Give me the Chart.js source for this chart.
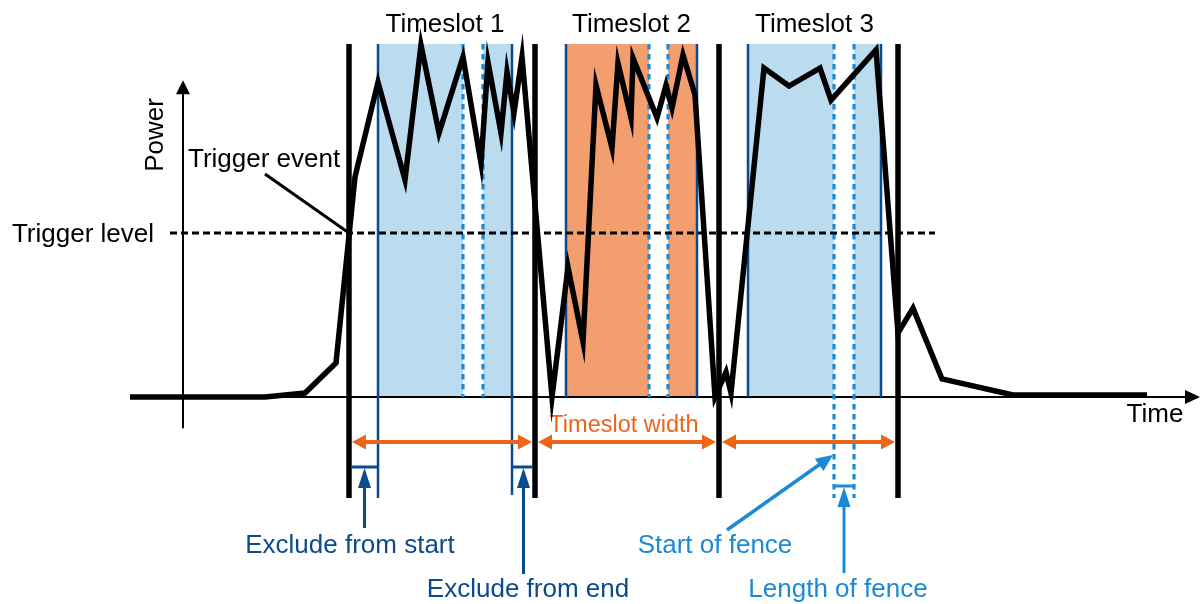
<!DOCTYPE html>
<html>
<head>
<meta charset="utf-8">
<script src="https://cdn.jsdelivr.net/npm/chart.js@4"></script>
<style>
  body { margin: 0; background: #fff; }
  #wrap { width: 1201px; height: 604px; position: relative; }
</style>
</head>
<body>
<div id="wrap"><canvas id="timeslot-chart"></canvas></div>
<script>
// power trace (time units, power in % where trigger level = 50)
const signalTime  = [-5.3, 8.2, 12.2, 15.3, 17.2, 19.5, 22.2, 23.8, 25.6, 28.0, 29.8, 30.5, 31.8, 32.4, 33.1, 33.9,
                     36.9, 38.5, 40.0, 41.3, 42.9, 43.5, 44.8, 45.0, 47.4, 48.3, 48.9, 50.0, 51.2,
                     53.2, 54.3, 54.8, 58.1, 60.6, 63.7, 64.8, 69.3, 71.5, 73.0, 75.9, 83.0, 96.4];
const signalPower = [0, 0, 1.2, 10.4, 67.1, 96.0, 66.2, 107.3, 80.5, 103.7, 71.3, 102.1, 80.5, 99.1, 86.6, 103.7,
                     0, 39.6, 16.8, 95.1, 75.9, 101.8, 85.1, 103.4, 85.1, 95.1, 88.1, 104.3, 92.1,
                     0, 7.6, 1.2, 100.3, 94.8, 100.3, 90.5, 105.8, 19.5, 27.1, 5.5, 0.6, 0.6];

const slotLabels  = ["Timeslot 1", "Timeslot 2", "Timeslot 3"];
const slotEdges   = [16.6, 35.2, 53.6, 71.5];
const windowStart = [19.5, 38.3, 56.5];
const windowEnd   = [32.9, 51.4, 69.8];
const fenceStart  = [28.0, 46.6, 65.1];
const fenceEnd    = [30.0, 48.5, 67.1];
const triggerLevel = 50;
const triggerSpan  = [-1.3, 75.2];

const FONT = "'Liberation Sans', Arial, sans-serif";
const DARK_BLUE = "#0b4a8c";
const LIGHT_BLUE = "#1a8ad4";
const ORANGE = "#ec6519";

const headAt = (ctx, x1, y1, x2, y2, len, half, color) => {
  const a = Math.atan2(y2 - y1, x2 - x1);
  ctx.save();
  ctx.fillStyle = color;
  ctx.translate(x2, y2);
  ctx.rotate(a);
  ctx.beginPath();
  ctx.moveTo(0, 0);
  ctx.lineTo(-len, -half);
  ctx.lineTo(-len, half);
  ctx.closePath();
  ctx.fill();
  ctx.restore();
}

const line = (ctx, x1, y1, x2, y2, w, color, dash) => {
  ctx.save();
  ctx.strokeStyle = color;
  ctx.lineWidth = w;
  ctx.setLineDash(dash || []);
  ctx.beginPath();
  ctx.moveTo(x1, y1);
  ctx.lineTo(x2, y2);
  ctx.stroke();
  ctx.restore();
}

// shaft stops at the base of the head so the tip stays sharp
const arrow = (ctx, x1, y1, x2, y2, w, len, half, color) => {
  const d = Math.hypot(x2 - x1, y2 - y1);
  const ex = x2 - (x2 - x1) / d * (len - 1), ey = y2 - (y2 - y1) / d * (len - 1);
  line(ctx, x1, y1, ex, ey, w, color);
  headAt(ctx, x1, y1, x2, y2, len, half, color);
}

const text = (ctx, str, x, y, size, color, align) => {
  ctx.save();
  ctx.font = size + "px " + FONT;
  ctx.fillStyle = color;
  ctx.textAlign = align || "center";
  ctx.textBaseline = "alphabetic";
  ctx.fillText(str, x, y);
  ctx.restore();
}

const diagramPlugin = {
  id: "diagram",
  beforeDatasetsDraw(chart) {
    const ctx = chart.ctx;
    const px = v => chart.scales.x.getPixelForValue(v);
    const py = v => chart.scales.y.getPixelForValue(v);
    const base = py(0);
    const top = py(107.6);
    const lower = base + 101;

    // measurement windows minus the fence gap
    const fills = ["#bbdcef", "#f29e6e", "#bbdcef"];
    for (let i = 0; i < 3; i++) {
      ctx.fillStyle = fills[i];
      ctx.fillRect(px(windowStart[i]), top, px(fenceStart[i]) - px(windowStart[i]), base - top);
      ctx.fillRect(px(fenceEnd[i]), top, px(windowEnd[i]) - px(fenceEnd[i]), base - top);
    }

    // axes
    line(ctx, px(-5.3), base, px(100.3), base, 2, "#000");
    headAt(ctx, 0, base, px(101.7), base, 15, 7, "#000");
    line(ctx, px(0), py(-9.5), px(0), py(93), 2, "#000");
    headAt(ctx, px(0), base, px(0), py(96.6), 14, 7, "#000");

    // window edges and fences
    for (let i = 0; i < 3; i++) {
      const bot = i === 0 ? lower : base;
      line(ctx, px(windowStart[i]), top, px(windowStart[i]), bot, 2.5, DARK_BLUE);
      line(ctx, px(windowEnd[i]), top, px(windowEnd[i]), i === 0 ? lower - 3 : base, 2.5, DARK_BLUE);
      const fb = i === 2 ? lower : base;
      line(ctx, px(fenceStart[i]), top, px(fenceStart[i]), fb, 3.2, LIGHT_BLUE, [5.5, 4.5]);
      line(ctx, px(fenceEnd[i]), top, px(fenceEnd[i]), fb, 3.2, LIGHT_BLUE, [5.5, 4.5]);
    }

    // timeslot boundaries
    slotEdges.forEach(t => line(ctx, px(t), top, px(t), lower, 5.5, "#000"));

    // labels on top
    for (let i = 0; i < 3; i++) {
      text(ctx, slotLabels[i], (px(windowStart[i]) + px(windowEnd[i])) / 2, 32, 26, "#000");
    }

    // power axis label
    ctx.save();
    ctx.translate(px(0) - 20, 135);
    ctx.rotate(-Math.PI / 2);
    text(ctx, "Power", 0, 0, 26, "#000");
    ctx.restore();
    text(ctx, "Time", 1155, base + 25, 26, "#000");

    // trigger annotations
    text(ctx, "Trigger level", px(0) - 29, py(triggerLevel) + 9, 26, "#000", "right");
    text(ctx, "Trigger event", px(0) + 5, 167, 26, "#000", "left");
    line(ctx, 265, 174, px(slotEdges[0]), py(triggerLevel), 3, "#000");

    // timeslot width arrows
    const ay = base + 45;
    for (let i = 0; i < 3; i++) {
      const a = px(slotEdges[i]) + 3, b = px(slotEdges[i + 1]) - 3;
      line(ctx, a + 10, ay, b - 10, ay, 4, ORANGE);
      headAt(ctx, b, ay, a, ay, 14, 7.5, ORANGE);
      headAt(ctx, a, ay, b, ay, 14, 7.5, ORANGE);
    }
    text(ctx, "Timeslot width", (px(slotEdges[1]) + px(slotEdges[2])) / 2 - 3, base + 35, 23.5, ORANGE);

    // exclude from start / end
    const by = base + 70;
    line(ctx, px(slotEdges[0]) + 3, by, px(windowStart[0]), by, 3, DARK_BLUE);
    const xs = (px(slotEdges[0]) + px(windowStart[0])) / 2 + 1;
    arrow(ctx, xs, base + 131, xs, by + 1, 3, 20, 6.5, DARK_BLUE);
    text(ctx, "Exclude from start", 350, 553, 26, DARK_BLUE);

    line(ctx, px(windowEnd[0]), by, px(slotEdges[1]) - 3, by, 3, DARK_BLUE);
    const xe = (px(windowEnd[0]) + px(slotEdges[1])) / 2;
    arrow(ctx, xe, base + 177, xe, by + 1, 3, 20, 6.5, DARK_BLUE);
    text(ctx, "Exclude from end", 528, 597, 26, DARK_BLUE);

    // fence annotations
    arrow(ctx, 727, 530, px(fenceStart[2]) - 1, base + 58, 3.5, 17, 7.5, LIGHT_BLUE);
    text(ctx, "Start of fence", 715, 553, 26, LIGHT_BLUE);
    const fy = base + 89;
    line(ctx, px(fenceStart[2]), fy, px(fenceEnd[2]), fy, 3, LIGHT_BLUE);
    const xf = (px(fenceStart[2]) + px(fenceEnd[2])) / 2;
    arrow(ctx, xf, base + 176, xf, fy + 1, 3, 20, 6.5, LIGHT_BLUE);
    text(ctx, "Length of fence", 838, 597, 26, LIGHT_BLUE);
  }
};

const generateDiagram = (canvasId) => {
  const config = {
    type: "line",
    data: {
      datasets: [{
        label: "Power",
        data: signalTime.map((t, i) => ({ x: t, y: signalPower[i] })),
        borderColor: "#000",
        borderWidth: 5.5,
        borderJoinStyle: "miter",
        pointRadius: 0,
        tension: 0,
        order: 0
      }, {
        label: "Trigger level",
        data: triggerSpan.map(t => ({ x: t, y: triggerLevel })),
        borderColor: "#000",
        borderWidth: 3,
        borderDash: [7, 4],
        pointRadius: 0,
        order: 1
      }]
    },
    options: {
      responsive: true,
      maintainAspectRatio: false,
      animation: false,
      events: [],
      layout: { padding: 0 },
      scales: {
        x: { type: "linear", min: -18.3, max: 101.8, display: false },
        y: { min: -63.11, max: 121.04, display: false }
      },
      plugins: { legend: { display: false }, tooltip: { enabled: false } }
    },
    plugins: [diagramPlugin]
  };
  return new Chart(document.getElementById(canvasId), config);
}

generateDiagram("timeslot-chart")
</script>
</body>
</html>
